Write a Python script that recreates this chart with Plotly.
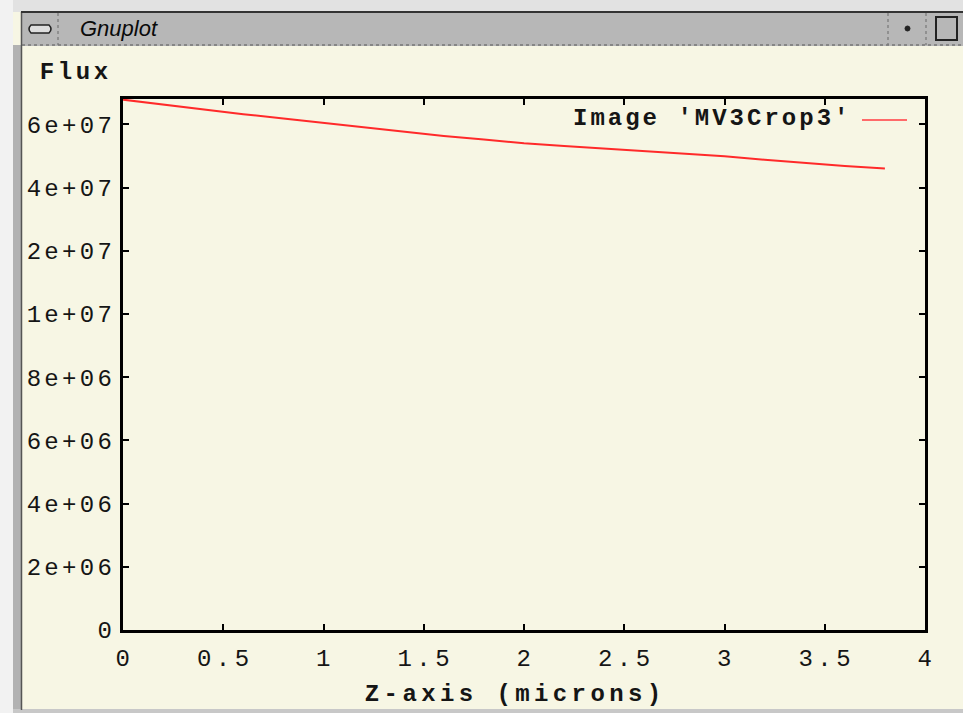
import numpy as np
import plotly.graph_objects as go

# ---- data ----
series_name = "Image 'MV3Crop3'"
z_microns = [0.0, 0.2, 0.4, 0.6, 0.8, 1.0, 1.2, 1.4, 1.6, 1.8, 2.0,
             2.2, 2.4, 2.6, 2.8, 3.0, 3.2, 3.4, 3.6, 3.8]
flux = [6.78e7, 6.62e7, 6.47e7, 6.32e7, 6.18e7, 6.04e7, 5.90e7, 5.77e7, 5.63e7, 5.52e7, 5.40e7,
        5.31e7, 5.23e7, 5.15e7, 5.07e7, 4.99e7, 4.88e7, 4.77e7, 4.68e7, 4.60e7]

x_tick_values = [0, 0.5, 1, 1.5, 2, 2.5, 3, 3.5, 4]
x_tick_labels = ["0", "0.5", "1", "1.5", "2", "2.5", "3", "3.5", "4"]
y_tick_values = [0, 2e6, 4e6, 6e6, 8e6, 1e7, 2e7, 4e7, 6e7]
y_tick_labels = ["0", "2e+06", "4e+06", "6e+06", "8e+06", "1e+07", "2e+07", "4e+07", "6e+07"]
y_top_value = 6.8e7

x_title = "Z-axis (microns)"
y_title = "Flux"
window_title = "Gnuplot"

# ---- the y axis of the original is spaced evenly by tick, not linearly ----
scale_vals = y_tick_values + [8e7]
scale_pos = list(range(len(scale_vals)))


def ypos(v):
    return np.interp(v, scale_vals, scale_pos)


W, H = 963, 713
L, R, T, B = 123, 925, 99, 630


def px(x):
    return (x - L) / (R - L)


def py(y):
    return (B - y) / (B - T)


CREAM = "#F7F6E4"
MONO = "Liberation Mono, Courier New, monospace"
INK = "#151515"

fig = go.Figure()
fig.add_trace(go.Scatter(
    x=z_microns, y=ypos(np.array(flux)), mode="lines",
    line=dict(color="#FF2A2A", width=2), name=series_name, showlegend=False,
    hoverinfo="skip"))

shapes = []


def rect(x0, y0, x1, y1, fill, line=None, lw=0, layer="below"):
    shapes.append(dict(type="rect", xref="paper", yref="paper",
                       x0=px(x0), x1=px(x1), y0=py(y1), y1=py(y0),
                       fillcolor=fill, line=dict(color=line or fill, width=lw),
                       layer=layer))


def seg(x0, y0, x1, y1, color, width=1, dash="solid", layer="above"):
    shapes.append(dict(type="line", xref="paper", yref="paper",
                       x0=px(x0), x1=px(x1), y0=py(y0), y1=py(y1),
                       line=dict(color=color, width=width, dash=dash), layer=layer))


# outer desktop area
rect(0, 0, W, 12, "#E2E2E2")
rect(0, 0, 13, H, "#F2F2F2")
# left frame bar
rect(13, 45, 22, 710, "#B2B2B2")
seg(21.5, 12, 21.5, 710, "#555555", 1.5)
# bottom frame
rect(13, 709, W, H, "#C8C8C8")
# title bar
rect(22, 12, W, 46, "#B7B7B7")
seg(21, 12, W, 12, "#333333", 2)
seg(22, 45, W, 45, "#777777", 1.5, "dot")
seg(58, 13, 58, 45, "#777777", 1.2, "dot")
seg(888, 13, 888, 45, "#777777", 1.2, "dot")
seg(926, 13, 926, 45, "#777777", 1.2, "dot")
# window buttons
shapes.append(dict(type="path", xref="paper", yref="paper",
                   path=f"M {px(31)},{py(25)} L {px(49)},{py(25)} Q {px(53)},{py(29)} {px(49)},{py(33)} "
                        f"L {px(31)},{py(33)} Q {px(27)},{py(29)} {px(31)},{py(25)} Z",
                   fillcolor="#DDDDDD", line=dict(color="#222222", width=1.5), layer="above"))
shapes.append(dict(type="circle", xref="paper", yref="paper",
                   x0=px(905), x1=px(910), y0=py(31), y1=py(26),
                   fillcolor="#222222", line=dict(color="#222222", width=1), layer="above"))
shapes.append(dict(type="rect", xref="paper", yref="paper",
                   x0=px(936), x1=px(957), y0=py(40), y1=py(17),
                   fillcolor="rgba(0,0,0,0)", line=dict(color="#222222", width=2), layer="above"))
# legend sample line
seg(862, 120, 907, 120, "#FF6A6A", 2)

annotations = [
    dict(text=window_title, x=px(78), y=py(29), xref="paper", yref="paper",
         xanchor="left", yanchor="middle", showarrow=False,
         font=dict(family="Liberation Sans, Arial", size=22, color="#0A0A0A", style="italic")),
    dict(text=y_title, x=px(76), y=py(73), xref="paper", yref="paper",
         xanchor="center", yanchor="middle", showarrow=False,
         font=dict(family=MONO, size=24, color=INK, weight="bold")),
    dict(text=x_title, x=px(515), y=py(694), xref="paper", yref="paper",
         xanchor="center", yanchor="middle", showarrow=False,
         font=dict(family=MONO, size=24, color=INK, weight="bold")),
    dict(text=series_name, x=px(712), y=py(119), xref="paper", yref="paper",
         xanchor="center", yanchor="middle", showarrow=False,
         font=dict(family=MONO, size=24, color=INK, weight="bold")),
]

axis_common = dict(showgrid=False, zeroline=False, showline=True, linecolor="#000000",
                   linewidth=3, mirror="ticks", ticks="inside", ticklen=6, tickwidth=2,
                   tickcolor="#000000",
                   tickfont=dict(family=MONO, size=24, color=INK))

fig.update_layout(
    width=W, height=H, autosize=False,
    margin=dict(l=L, r=W - R, t=T, b=H - B, pad=0),
    paper_bgcolor=CREAM, plot_bgcolor=CREAM,
    showlegend=False,
    shapes=shapes, annotations=annotations,
    xaxis=dict(range=[0, 4], tickvals=x_tick_values, ticktext=x_tick_labels,
               ticklabelstandoff=4, **axis_common),
    yaxis=dict(range=[0, float(ypos(y_top_value))], tickvals=list(ypos(np.array(y_tick_values))),
               ticktext=y_tick_labels, ticklabelstandoff=0, **axis_common),
)

# gnuplot's X11 terminal spaces its fixed-width characters widely
spacing_js = """
var gd = document.getElementById('{plot_id}');
gd.querySelectorAll('.ytick text').forEach(function(t){ t.style.letterSpacing = '3.3px'; });
gd.querySelectorAll('.xtick text').forEach(function(t){
  t.style.letterSpacing = '4.5px';
  t.setAttribute('dx', '2');
});
gd.querySelectorAll('.annotation-text').forEach(function(t){
  var s = t.textContent;
  if (s === 'Gnuplot') { return; }
  t.style.letterSpacing = (s.indexOf('Z-axis') === 0) ? '4.4px' : (s === 'Flux' ? '3.6px' : '3px');
});
"""

fig.write_html("out.html", post_script=spacing_js)
